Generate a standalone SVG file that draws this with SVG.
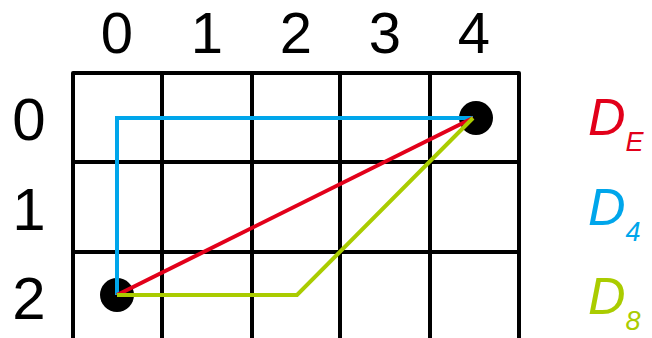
<svg xmlns="http://www.w3.org/2000/svg" width="652" height="338" viewBox="0 0 652 338">
<style>
.grid{stroke:#000;stroke-width:4;fill:none;stroke-linejoin:round;stroke-linecap:butt}
.lbl{font-family:"Liberation Sans",Arial,sans-serif;font-size:60px;fill:#000;text-anchor:middle}
.col{font-size:58px}
.d{font-family:"Liberation Sans",Arial,sans-serif;font-style:italic}
.big{font-size:52px}
.sub{font-size:27px}
.path{fill:none;stroke-width:4;stroke-linejoin:miter}
</style>
<rect width="652" height="338" fill="#fff"/>
<g id="grid">
<path class="grid" d="M73,338 V73 H519 V338"/>
<path class="grid" d="M162,73 V338 M252,73 V338 M340,73 V338 M430,73 V338 M73,162 H519 M73,252 H519"/>
</g>
<g id="labels">
<text class="lbl col" x="117" y="53">0</text>
<text class="lbl col" x="207" y="53">1</text>
<text class="lbl col" x="296" y="53">2</text>
<text class="lbl col" x="385" y="53">3</text>
<text class="lbl col" x="474" y="53">4</text>
<text class="lbl" x="29" y="140">0</text>
<text class="lbl" x="29" y="230">1</text>
<text class="lbl" x="29" y="319">2</text>
</g>
<g id="nodes">
<g id="start"><circle cx="117" cy="295" r="17" fill="#000"/></g>
<g id="end"><circle cx="476" cy="118" r="17" fill="#000"/></g>
</g>
<g id="connectors">
<path class="path" stroke="#00A6EB" d="M117,295 V118 H473"/>
<path class="path" stroke="#E2001A" d="M117,295 L473,118"/>
<path class="path" stroke="#AACC00" d="M117,295 H297 L473,118"/>
</g>
<g id="legend">
<text class="d" fill="#E2001A" x="588" y="135"><tspan class="big">D</tspan><tspan class="sub" dy="16">E</tspan></text>
<text class="d" fill="#00A6EB" x="588" y="225"><tspan class="big">D</tspan><tspan class="sub" dy="16">4</tspan></text>
<text class="d" fill="#AACC00" x="588" y="314"><tspan class="big">D</tspan><tspan class="sub" dy="16">8</tspan></text>
</g>
</svg>
